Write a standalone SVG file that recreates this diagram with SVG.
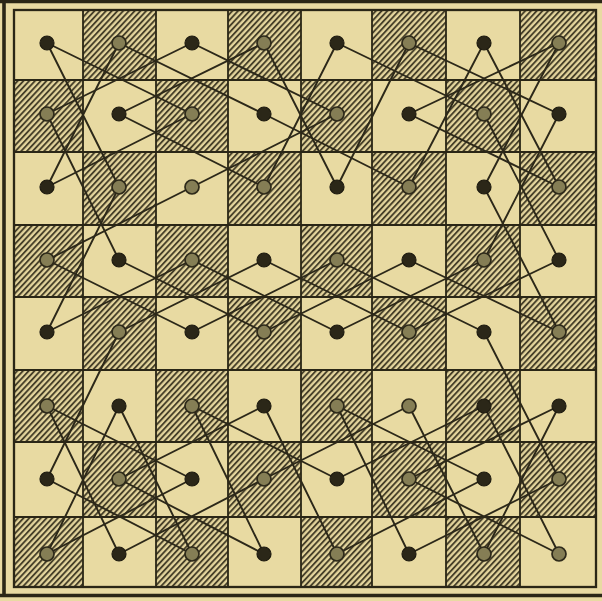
<svg xmlns="http://www.w3.org/2000/svg" width="602" height="601" viewBox="0 0 602 601">
<defs>
<pattern id="hatch" patternUnits="userSpaceOnUse" width="4.2" height="4.2" patternTransform="rotate(43)">
<rect width="4.2" height="4.2" fill="#e4d59d"/>
<line x1="1" y1="0" x2="1" y2="4.2" stroke="#3d3722" stroke-width="1.8"/>
</pattern>
<style>
.dk{fill:#2b2718;stroke:#1e1b10;stroke-width:1.2}
.gr{fill:#857e55;stroke:#2e2a1a;stroke-width:1.7}
#connectors line{stroke:#2c2819;stroke-width:1.9;stroke-linecap:round}
</style>
</defs>
<rect width="602" height="601" fill="#e8daa2"/>
<path fill="none" stroke="#2a2616" stroke-width="3.6" d="M4,0V597 M0,1.5H602 M0,595.5H602"/>
<g id="board">
<rect x="14" y="10" width="582" height="577" fill="#e8daa2"/>
<path fill="url(#hatch)" d="
M83,10H156V80H83Z M228,10H301V80H228Z M372,10H446V80H372Z M520,10H596V80H520Z
M14,80H83V152H14Z M156,80H228V152H156Z M301,80H372V152H301Z M446,80H520V152H446Z
M83,152H156V225H83Z M228,152H301V225H228Z M372,152H446V225H372Z M520,152H596V225H520Z
M14,225H83V297H14Z M156,225H228V297H156Z M301,225H372V297H301Z M446,225H520V297H446Z
M83,297H156V370H83Z M228,297H301V370H228Z M372,297H446V370H372Z M520,297H596V370H520Z
M14,370H83V442H14Z M156,370H228V442H156Z M301,370H372V442H301Z M446,370H520V442H446Z
M83,442H156V517H83Z M228,442H301V517H228Z M372,442H446V517H372Z M520,442H596V517H520Z
M14,517H83V587H14Z M156,517H228V587H156Z M301,517H372V587H301Z M446,517H520V587H446Z"/>
<path fill="none" stroke="#2a2616" stroke-width="1.8" d="
M83,10V587 M156,10V587 M228,10V587 M301,10V587 M372,10V587 M446,10V587 M520,10V587
M14,80H596 M14,152H596 M14,225H596 M14,297H596 M14,370H596 M14,442H596 M14,517H596"/>
<rect x="14" y="10" width="582" height="577" fill="none" stroke="#2a2616" stroke-width="2.3"/>
</g>
<g id="connectors">
<line x1="119" y1="332" x2="264" y2="260"/>
<line x1="264" y1="260" x2="409" y2="332"/>
<line x1="409" y1="332" x2="559" y2="260"/>
<line x1="559" y1="260" x2="484" y2="114"/>
<line x1="484" y1="114" x2="337" y2="43"/>
<line x1="337" y1="43" x2="264" y2="187"/>
<line x1="264" y1="187" x2="119" y2="114"/>
<line x1="119" y1="114" x2="264" y2="43"/>
<line x1="264" y1="43" x2="337" y2="187"/>
<line x1="337" y1="187" x2="409" y2="43"/>
<line x1="409" y1="43" x2="559" y2="114"/>
<line x1="559" y1="114" x2="484" y2="260"/>
<line x1="484" y1="260" x2="337" y2="332"/>
<line x1="337" y1="332" x2="192" y2="260"/>
<line x1="192" y1="260" x2="47" y2="332"/>
<line x1="47" y1="332" x2="119" y2="187"/>
<line x1="119" y1="187" x2="47" y2="43"/>
<line x1="47" y1="43" x2="192" y2="114"/>
<line x1="192" y1="114" x2="47" y2="187"/>
<line x1="47" y1="187" x2="119" y2="43"/>
<line x1="119" y1="43" x2="264" y2="114"/>
<line x1="264" y1="114" x2="409" y2="187"/>
<line x1="409" y1="187" x2="484" y2="43"/>
<line x1="484" y1="43" x2="559" y2="187"/>
<line x1="559" y1="187" x2="409" y2="114"/>
<line x1="409" y1="114" x2="559" y2="43"/>
<line x1="559" y1="43" x2="484" y2="187"/>
<line x1="484" y1="187" x2="559" y2="332"/>
<line x1="559" y1="332" x2="409" y2="260"/>
<line x1="409" y1="260" x2="264" y2="332"/>
<line x1="264" y1="332" x2="119" y2="260"/>
<line x1="119" y1="260" x2="47" y2="114"/>
<line x1="47" y1="114" x2="192" y2="43"/>
<line x1="192" y1="43" x2="337" y2="114"/>
<line x1="337" y1="114" x2="192" y2="187"/>
<line x1="192" y1="187" x2="47" y2="260"/>
<line x1="47" y1="260" x2="192" y2="332"/>
<line x1="192" y1="332" x2="337" y2="260"/>
<line x1="337" y1="260" x2="484" y2="332"/>
<line x1="484" y1="332" x2="559" y2="479"/>
<line x1="559" y1="479" x2="409" y2="554"/>
<line x1="409" y1="554" x2="337" y2="406"/>
<line x1="337" y1="406" x2="484" y2="479"/>
<line x1="484" y1="479" x2="337" y2="554"/>
<line x1="337" y1="554" x2="264" y2="406"/>
<line x1="264" y1="406" x2="119" y2="479"/>
<line x1="119" y1="479" x2="264" y2="554"/>
<line x1="264" y1="554" x2="192" y2="406"/>
<line x1="192" y1="406" x2="337" y2="479"/>
<line x1="337" y1="479" x2="484" y2="406"/>
<line x1="484" y1="406" x2="559" y2="554"/>
<line x1="559" y1="554" x2="409" y2="479"/>
<line x1="409" y1="479" x2="559" y2="406"/>
<line x1="559" y1="406" x2="484" y2="554"/>
<line x1="484" y1="554" x2="409" y2="406"/>
<line x1="409" y1="406" x2="264" y2="479"/>
<line x1="264" y1="479" x2="119" y2="554"/>
<line x1="119" y1="554" x2="47" y2="406"/>
<line x1="47" y1="406" x2="192" y2="479"/>
<line x1="192" y1="479" x2="47" y2="554"/>
<line x1="47" y1="554" x2="119" y2="406"/>
<line x1="119" y1="406" x2="192" y2="554"/>
<line x1="192" y1="554" x2="47" y2="479"/>
<line x1="47" y1="479" x2="119" y2="332"/>
</g>
<g id="nodes">
<g id="sq-a8"><circle class="dk" cx="47" cy="43" r="7"/></g>
<g id="sq-b8"><circle class="gr" cx="119" cy="43" r="7"/></g>
<g id="sq-c8"><circle class="dk" cx="192" cy="43" r="7"/></g>
<g id="sq-d8"><circle class="gr" cx="264" cy="43" r="7"/></g>
<g id="sq-e8"><circle class="dk" cx="337" cy="43" r="7"/></g>
<g id="sq-f8"><circle class="gr" cx="409" cy="43" r="7"/></g>
<g id="sq-g8"><circle class="dk" cx="484" cy="43" r="7"/></g>
<g id="sq-h8"><circle class="gr" cx="559" cy="43" r="7"/></g>
<g id="sq-a7"><circle class="gr" cx="47" cy="114" r="7"/></g>
<g id="sq-b7"><circle class="dk" cx="119" cy="114" r="7"/></g>
<g id="sq-c7"><circle class="gr" cx="192" cy="114" r="7"/></g>
<g id="sq-d7"><circle class="dk" cx="264" cy="114" r="7"/></g>
<g id="sq-e7"><circle class="gr" cx="337" cy="114" r="7"/></g>
<g id="sq-f7"><circle class="dk" cx="409" cy="114" r="7"/></g>
<g id="sq-g7"><circle class="gr" cx="484" cy="114" r="7"/></g>
<g id="sq-h7"><circle class="dk" cx="559" cy="114" r="7"/></g>
<g id="sq-a6"><circle class="dk" cx="47" cy="187" r="7"/></g>
<g id="sq-b6"><circle class="gr" cx="119" cy="187" r="7"/></g>
<g id="sq-c6"><circle class="gr" cx="192" cy="187" r="7"/></g>
<g id="sq-d6"><circle class="gr" cx="264" cy="187" r="7"/></g>
<g id="sq-e6"><circle class="dk" cx="337" cy="187" r="7"/></g>
<g id="sq-f6"><circle class="gr" cx="409" cy="187" r="7"/></g>
<g id="sq-g6"><circle class="dk" cx="484" cy="187" r="7"/></g>
<g id="sq-h6"><circle class="gr" cx="559" cy="187" r="7"/></g>
<g id="sq-a5"><circle class="gr" cx="47" cy="260" r="7"/></g>
<g id="sq-b5"><circle class="dk" cx="119" cy="260" r="7"/></g>
<g id="sq-c5"><circle class="gr" cx="192" cy="260" r="7"/></g>
<g id="sq-d5"><circle class="dk" cx="264" cy="260" r="7"/></g>
<g id="sq-e5"><circle class="gr" cx="337" cy="260" r="7"/></g>
<g id="sq-f5"><circle class="dk" cx="409" cy="260" r="7"/></g>
<g id="sq-g5"><circle class="gr" cx="484" cy="260" r="7"/></g>
<g id="sq-h5"><circle class="dk" cx="559" cy="260" r="7"/></g>
<g id="sq-a4"><circle class="dk" cx="47" cy="332" r="7"/></g>
<g id="sq-b4"><circle class="gr" cx="119" cy="332" r="7"/></g>
<g id="sq-c4"><circle class="dk" cx="192" cy="332" r="7"/></g>
<g id="sq-d4"><circle class="gr" cx="264" cy="332" r="7"/></g>
<g id="sq-e4"><circle class="dk" cx="337" cy="332" r="7"/></g>
<g id="sq-f4"><circle class="gr" cx="409" cy="332" r="7"/></g>
<g id="sq-g4"><circle class="dk" cx="484" cy="332" r="7"/></g>
<g id="sq-h4"><circle class="gr" cx="559" cy="332" r="7"/></g>
<g id="sq-a3"><circle class="gr" cx="47" cy="406" r="7"/></g>
<g id="sq-b3"><circle class="dk" cx="119" cy="406" r="7"/></g>
<g id="sq-c3"><circle class="gr" cx="192" cy="406" r="7"/></g>
<g id="sq-d3"><circle class="dk" cx="264" cy="406" r="7"/></g>
<g id="sq-e3"><circle class="gr" cx="337" cy="406" r="7"/></g>
<g id="sq-f3"><circle class="gr" cx="409" cy="406" r="7"/></g>
<g id="sq-g3"><circle class="dk" cx="484" cy="406" r="7"/></g>
<g id="sq-h3"><circle class="dk" cx="559" cy="406" r="7"/></g>
<g id="sq-a2"><circle class="dk" cx="47" cy="479" r="7"/></g>
<g id="sq-b2"><circle class="gr" cx="119" cy="479" r="7"/></g>
<g id="sq-c2"><circle class="dk" cx="192" cy="479" r="7"/></g>
<g id="sq-d2"><circle class="gr" cx="264" cy="479" r="7"/></g>
<g id="sq-e2"><circle class="dk" cx="337" cy="479" r="7"/></g>
<g id="sq-f2"><circle class="gr" cx="409" cy="479" r="7"/></g>
<g id="sq-g2"><circle class="dk" cx="484" cy="479" r="7"/></g>
<g id="sq-h2"><circle class="gr" cx="559" cy="479" r="7"/></g>
<g id="sq-a1"><circle class="gr" cx="47" cy="554" r="7"/></g>
<g id="sq-b1"><circle class="dk" cx="119" cy="554" r="7"/></g>
<g id="sq-c1"><circle class="gr" cx="192" cy="554" r="7"/></g>
<g id="sq-d1"><circle class="dk" cx="264" cy="554" r="7"/></g>
<g id="sq-e1"><circle class="gr" cx="337" cy="554" r="7"/></g>
<g id="sq-f1"><circle class="dk" cx="409" cy="554" r="7"/></g>
<g id="sq-g1"><circle class="gr" cx="484" cy="554" r="7"/></g>
<g id="sq-h1"><circle class="gr" cx="559" cy="554" r="7"/></g>
</g>
</svg>
